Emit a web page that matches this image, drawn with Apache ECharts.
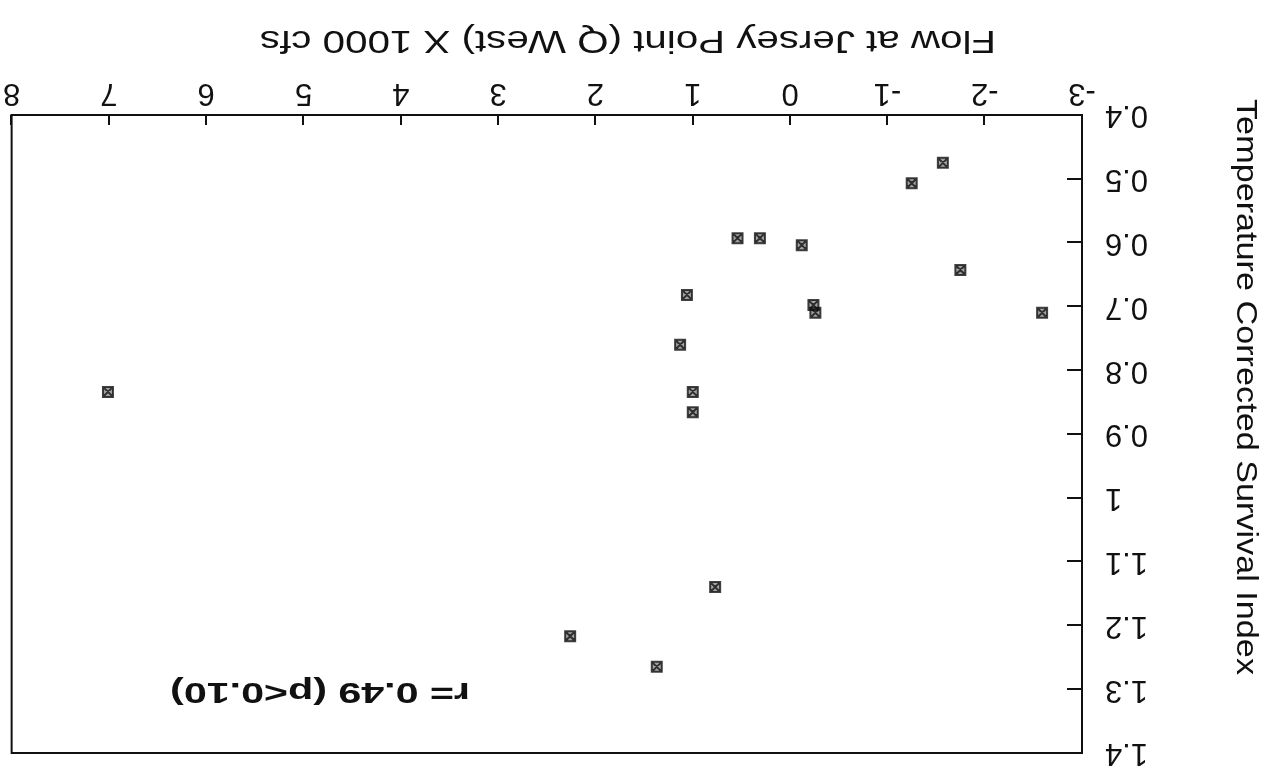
<!DOCTYPE html>
<html>
<head>
<meta charset="utf-8">
<script src="https://cdn.jsdelivr.net/npm/echarts@6/dist/echarts.min.js"></script>
<style>
  html, body { margin: 0; padding: 0; background: #fff; }
  /* the figure is printed upside down on the page */
  #chart { width: 1271px; height: 772px; transform: rotate(180deg); transform-origin: 50% 50%; }
</style>
</head>
<body>
<div id="chart"></div>
<script>
// Flow at Jersey Point (Q West), thousands of cfs
const flow = [-1.57, -1.25, 0.54, 0.31, -0.12, -1.75, 1.06, -0.24, -0.26, -2.59, 1.13, 7.01, 1.0, 1.0, 0.77, 2.26, 1.37];
// Temperature corrected survival index
const survival = [0.475, 0.507, 0.593, 0.593, 0.604, 0.643, 0.682, 0.698, 0.71, 0.71, 0.76, 0.834, 0.834, 0.866, 1.14, 1.217, 1.265];

const xTitle = 'Flow at Jersey Point (Q West) X 1000 cfs';
const yTitle = 'Temperature Corrected Survival Index';
const statText = 'r= 0.49 (p<0.10)';

const ink = '#111';
const face = 'Liberation Sans, Arial, Helvetica, sans-serif';

const points = flow.map((f, i) => [f, survival[i]]);

const chart = echarts.init(document.getElementById('chart'), null, { renderer: 'canvas' });
chart.setOption({
  backgroundColor: '#fff',
  animation: false,
  grid: { left: 189, right: 10, top: 19, bottom: 115, show: true, borderColor: ink, borderWidth: 2 },
  xAxis: {
    type: 'value', min: -3, max: 8, interval: 1,
    axisLine: { show: true, onZero: false, lineStyle: { color: ink, width: 2 } },
    axisTick: { show: true, inside: true, length: 10, lineStyle: { color: ink, width: 2 } },
    axisLabel: { color: ink, fontSize: 31, fontFamily: face, margin: 7 },
    splitLine: { show: false }
  },
  yAxis: {
    type: 'value', min: 0.4, max: 1.4, interval: 0.1,
    axisLine: { show: true, onZero: false, lineStyle: { color: ink, width: 2 } },
    axisTick: { show: true, inside: true, length: 15, lineStyle: { color: ink, width: 2 } },
    axisLabel: { color: ink, fontSize: 31, fontFamily: face, margin: 23,
      formatter: v => String(+v.toFixed(1)) },
    splitLine: { show: false }
  },
  graphic: [
    { type: 'text', x: 643, y: 732, scaleX: 1.3,
      style: { text: xTitle, fill: ink, font: '31px ' + face, align: 'center', verticalAlign: 'middle' } },
    { type: 'text', x: 26, y: 385, rotation: Math.PI / 2, scaleX: 1.14,
      style: { text: yTitle, fill: ink, font: '30px ' + face, align: 'center', verticalAlign: 'middle' } },
    { type: 'text', x: 801, y: 81, scaleX: 1.42,
      style: { text: statText, fill: ink, font: 'bold 29px ' + face, align: 'left', verticalAlign: 'middle' } }
  ],
  series: [{
    type: 'scatter',
    data: points,
    symbol: 'path://M0,0L10,0L10,10L0,10Z M0,0L10,10 M10,0L0,10',
    symbolSize: 10,
    itemStyle: { color: 'rgba(0,0,0,0.45)', borderColor: ink, borderWidth: 2 }
  }]
});
</script>
</body>
</html>
